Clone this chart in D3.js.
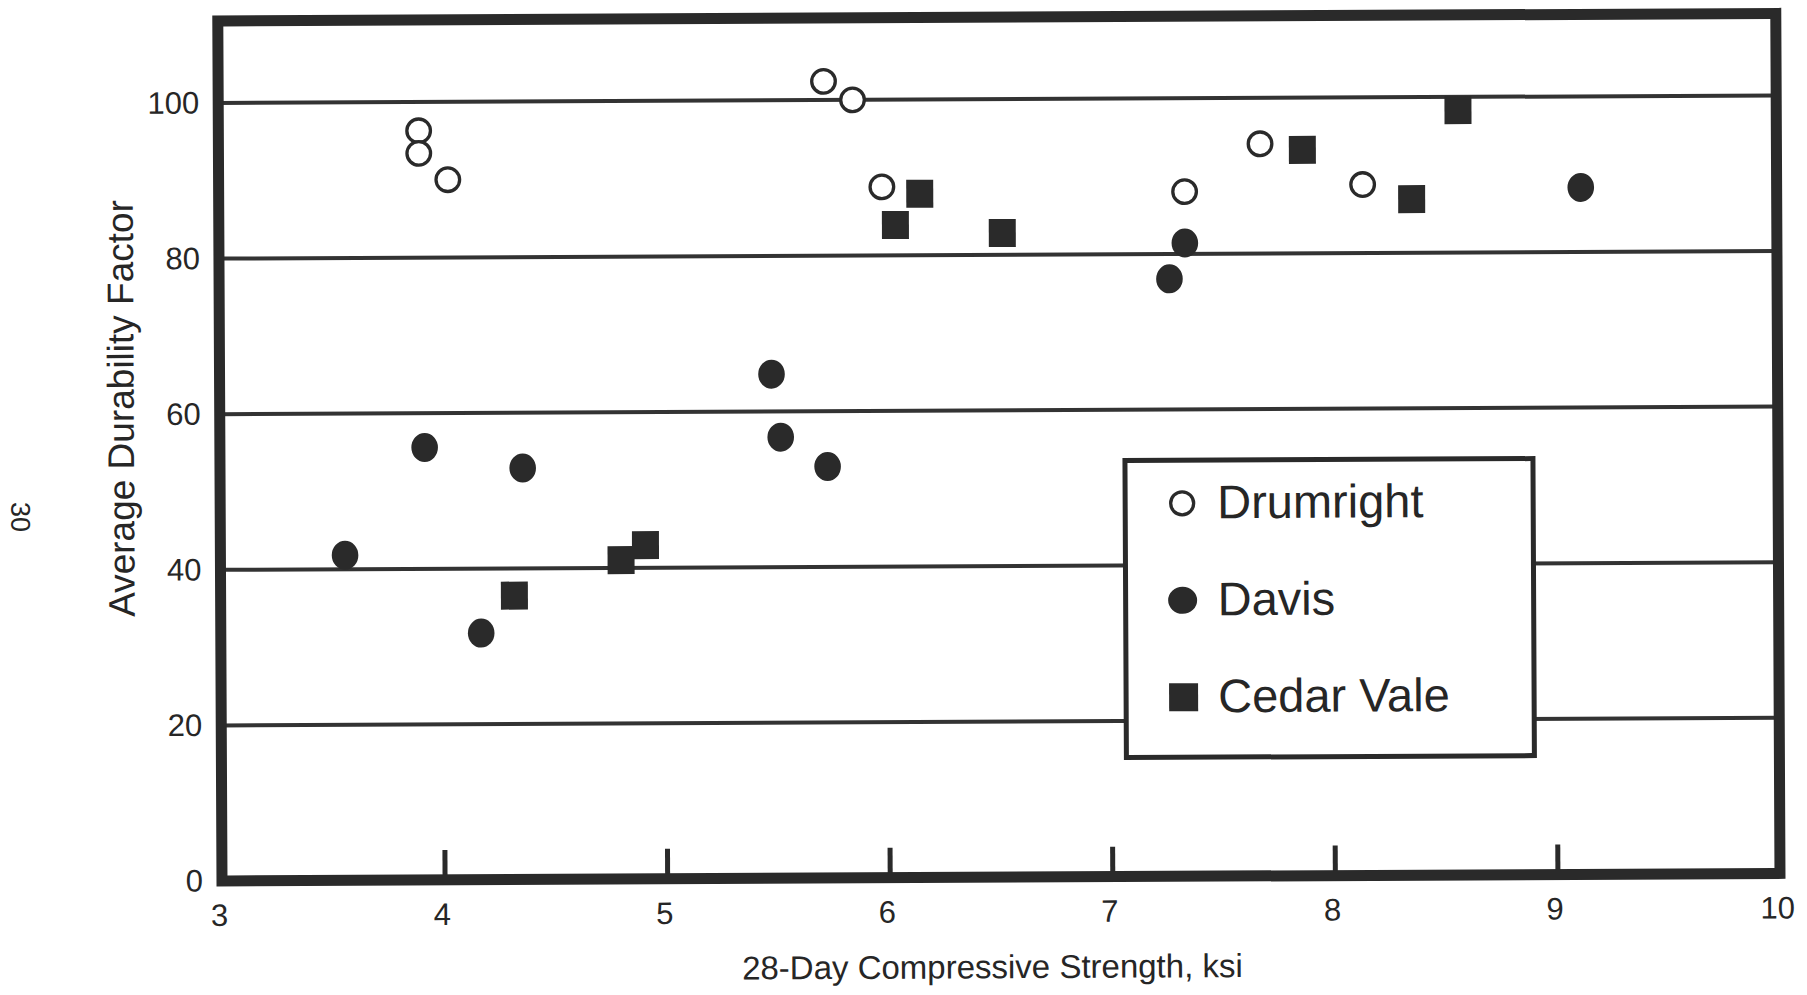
<!DOCTYPE html>
<html>
<head>
<meta charset="utf-8">
<script src="https://cdn.jsdelivr.net/npm/d3@7"></script>
<style>
    body { margin: 0; background: #fff; }
    text { font-family: "Liberation Sans", Arial, Helvetica, sans-serif; fill: #262626; }
</style>
</head>
<body>
<script>
// values
const drumrightX = [3.90, 3.90, 4.03, 5.72, 5.85, 5.98, 7.34, 7.68, 8.14];
const drumrightY = [96.3, 93.4, 90.0, 102.4, 100.0, 88.8, 88.0, 94.1, 88.8];
const davisX = [3.56, 3.92, 4.17, 4.36, 5.48, 5.52, 5.73, 7.27, 7.34, 9.12];
const davisY = [41.8, 55.6, 31.7, 52.9, 64.8, 56.7, 52.9, 76.8, 81.4, 88.3];
const cedarX = [4.32, 4.80, 4.91, 6.04, 6.15, 6.52, 7.87, 8.36, 8.57];
const cedarY = [36.5, 41.0, 42.9, 83.9, 87.9, 82.8, 93.3, 86.9, 98.3];

const seriesNames = ["Drumright", "Davis", "Cedar Vale"];
const xTickValues = [3, 4, 5, 6, 7, 8, 9, 10];
const yTickValues = [0, 20, 40, 60, 80, 100];
const gridValues = [20, 40, 60, 80, 100];

const width = 1807;
const height = 995;
const plot = { left: 222, right: 1780, top: 21, bottom: 881 };
const ink = "#2a2a2a";

function buildChart() {
    const svg = d3.select("body").append("svg")
        .attr("width", width)
        .attr("height", height);

    // the scan is tilted a little, so the whole page is turned with it
    const page = svg.append("g")
        .attr("transform", "rotate(-0.28," + plot.left + "," + plot.bottom + ")");

    const xScale = d3.scaleLinear().domain([3, 10]).range([plot.left, plot.right]);
    const yScale = d3.scaleLinear().domain([0, 100]).range([plot.bottom, plot.bottom - 778]);

    // horizontal rules
    page.append("g")
        .selectAll("line")
        .data(gridValues)
        .enter().append("line")
        .attr("x1", plot.left)
        .attr("x2", plot.right)
        .attr("y1", d => yScale(d))
        .attr("y2", d => yScale(d))
        .attr("stroke", "#333")
        .attr("stroke-width", 4);

    // x axis: inward ticks and labels
    const xAxis = d3.axisBottom(xScale)
        .tickValues(xTickValues)
        .tickSizeInner(-30)
        .tickSizeOuter(0)
        .tickPadding(23)
        .tickFormat(d3.format("d"));

    const gx = page.append("g")
        .attr("transform", "translate(0," + plot.bottom + ")")
        .call(xAxis);
    gx.select(".domain").remove();
    gx.selectAll("line").attr("stroke", ink).attr("stroke-width", 5);
    gx.selectAll("text")
        .attr("x", -3)
        .style("font-size", "31px")
        .attr("fill", "#262626");

    // y axis labels only
    const yAxis = d3.axisLeft(yScale)
        .tickValues(yTickValues)
        .tickSize(0)
        .tickPadding(19);

    const gy = page.append("g")
        .attr("transform", "translate(" + plot.left + ",0)")
        .call(yAxis);
    gy.select(".domain").remove();
    gy.selectAll("text")
        .style("font-size", "31px")
        .attr("fill", "#262626");

    // heavy frame
    page.append("rect")
        .attr("x", plot.left)
        .attr("y", plot.top)
        .attr("width", plot.right - plot.left)
        .attr("height", plot.bottom - plot.top)
        .attr("fill", "none")
        .attr("stroke", ink)
        .attr("stroke-width", 11);

    // markers
    page.append("g").selectAll("circle")
        .data(d3.zip(drumrightX, drumrightY))
        .enter().append("circle")
        .attr("cx", d => xScale(d[0]))
        .attr("cy", d => yScale(d[1]))
        .attr("r", 11.8)
        .attr("fill", "#fff")
        .attr("stroke", ink)
        .attr("stroke-width", 3.3);

    page.append("g").selectAll("ellipse")
        .data(d3.zip(davisX, davisY))
        .enter().append("ellipse")
        .attr("cx", d => xScale(d[0]))
        .attr("cy", d => yScale(d[1]))
        .attr("rx", 13.3)
        .attr("ry", 14.5)
        .attr("fill", ink);

    page.append("g").selectAll("rect")
        .data(d3.zip(cedarX, cedarY))
        .enter().append("rect")
        .attr("x", d => xScale(d[0]) - 13.5)
        .attr("y", d => yScale(d[1]) - 14)
        .attr("width", 27)
        .attr("height", 28)
        .attr("fill", ink);

    // legend
    const legend = page.append("g")
        .attr("transform", "translate(1127,465)");

    legend.append("rect")
        .attr("width", 408)
        .attr("height", 297)
        .attr("fill", "#fff")
        .attr("stroke", ink)
        .attr("stroke-width", 5);

    const item = legend.selectAll(".legend-item")
        .data(seriesNames)
        .enter().append("g")
        .attr("class", "legend-item")
        .attr("transform", (d, i) => "translate(0," + (58 + i * 97) + ")");

    item.each(function (d, i) {
        const g = d3.select(this);
        if (i === 0) {
            g.append("circle").attr("cx", 57).attr("cy", -15).attr("r", 11.5)
                .attr("fill", "#fff").attr("stroke", ink).attr("stroke-width", 3.3);
        } else if (i === 1) {
            g.append("ellipse").attr("cx", 57).attr("cy", -15).attr("rx", 14.5).attr("ry", 13.5)
                .attr("fill", ink);
        } else {
            g.append("rect").attr("x", 43).attr("y", -29).attr("width", 29).attr("height", 28)
                .attr("fill", ink);
        }
    });

    item.append("text")
        .attr("x", 92)
        .attr("y", 0)
        .style("font-size", "47px")
        .text(d => d);

    // axis titles
    page.append("text")
        .attr("x", 992)
        .attr("y", 982)
        .attr("text-anchor", "middle")
        .style("font-size", "33px")
        .text("28-Day Compressive Strength, ksi");

    page.append("text")
        .attr("transform", "translate(136,408) rotate(-90)")
        .attr("text-anchor", "middle")
        .style("font-size", "37px")
        .text("Average Durability Factor");

    // page number in the margin of the scan
    page.append("text")
        .attr("transform", "translate(13,516) rotate(90)")
        .attr("text-anchor", "middle")
        .style("font-size", "27px")
        .attr("fill", "#444")
        .text("30");
}

document.addEventListener("DOMContentLoaded", () => buildChart());
</script>
</body>
</html>
